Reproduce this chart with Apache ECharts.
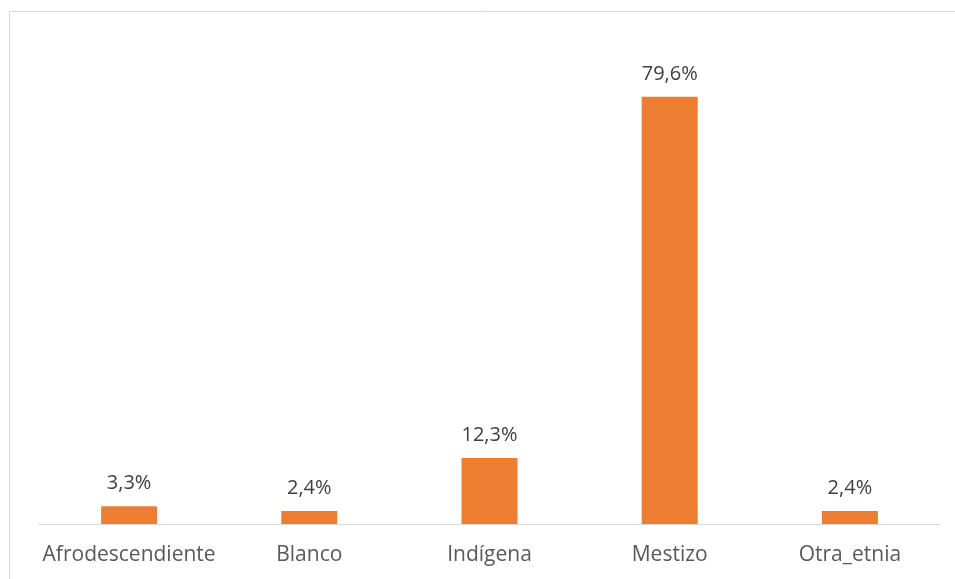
<!DOCTYPE html>
<html>
<head>
<meta charset="utf-8">
<script src="https://cdn.jsdelivr.net/npm/echarts@6/dist/echarts.min.js"></script>
<style>
  html, body { margin: 0; padding: 0; background: #fff; }
  #chart { width: 955px; height: 579px; }
</style>
</head>
<body>
<div id="chart"></div>
<script>
// Distribución por autoidentificación étnica (%)
const categories = ['Afrodescendiente', 'Blanco', 'Indígena', 'Mestizo', 'Otra_etnia'];
const percentages = [3.3, 2.4, 12.3, 79.6, 2.4];

const chart = echarts.init(document.getElementById('chart'));
const font = '"Open Sans", "Noto Sans", sans-serif';

chart.setOption({
  animation: false,
  backgroundColor: '#ffffff',
  graphic: [{
    type: 'rect',
    shape: { x: 9.5, y: 11.5, width: 960, height: 600 },
    style: { fill: 'none', stroke: '#d9d9d9', lineWidth: 1 }
  }],
  grid: { left: 39, right: 15, top: 41, bottom: 55, containLabel: false },
  xAxis: {
    type: 'category',
    data: categories,
    axisLine: { lineStyle: { color: '#d9d9d9', width: 1 } },
    axisTick: { show: false },
    axisLabel: { interval: 0, color: '#595959', fontFamily: font, fontSize: 21, margin: 21 }
  },
  yAxis: {
    type: 'value',
    min: 0,
    max: 90,
    show: false,
    splitLine: { show: false }
  },
  series: [{
    type: 'bar',
    data: percentages,
    barWidth: 56,
    itemStyle: { color: '#ed7d31' },
    label: {
      show: true,
      position: 'top',
      distance: 13,
      color: '#404040',
      fontFamily: font,
      fontSize: 20,
      formatter: p => p.value.toFixed(1).replace('.', ',') + '%'
    }
  }]
});
</script>
</body>
</html>
